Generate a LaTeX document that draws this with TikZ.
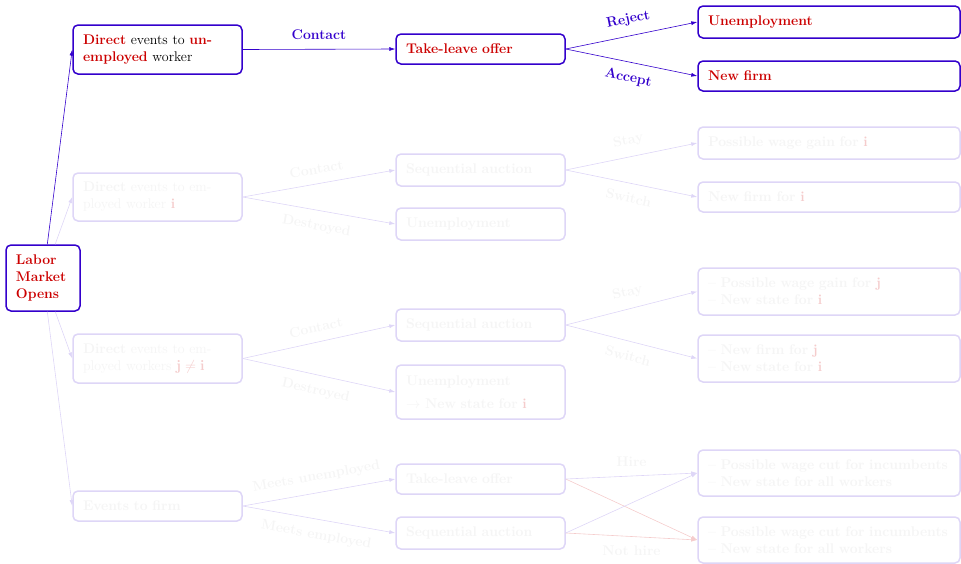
\documentclass[tikz,border=0pt]{standalone}
\usetikzlibrary{arrows.meta}
\definecolor{mainblue}{RGB}{51,0,204}
\definecolor{alertred}{RGB}{204,0,0}
\colorlet{fadeblue}{mainblue!16}
\colorlet{fadered}{alertred!20}
\colorlet{fadetext}{black!4}
\newcommand{\hl}[1]{\textcolor{alertred}{\textbf{#1}}}
\newcommand{\fhl}[1]{\textcolor{fadered}{\textbf{#1}}}

\begin{document}
\begin{tikzpicture}[x=1pt,y=-1pt,
  every node/.style={font=\fontsize{14}{17}\selectfont},
  box/.style={draw=mainblue, line width=1.5pt, rounded corners=5pt, fill=white,
    inner xsep=10pt, inner ysep=2pt, align=left},
  hbox/.style={box, text=alertred, font=\fontsize{14}{17}\selectfont\bfseries},
  fbox/.style={box, draw=fadeblue, text=fadetext},
  fbbox/.style={fbox, font=\fontsize{14}{17}\selectfont\bfseries},
  wa/.style={text width=149pt},
  wc/.style={text width=242pt},
  arr/.style={draw=mainblue, line width=0.6pt, -{Latex[length=6pt,width=4pt]}},
  farr/.style={arr, draw=fadeblue},
  frarr/.style={arr, draw=fadered},
  lbl/.style={font=\fontsize{14}{17}\selectfont\bfseries, text=mainblue, sloped},
  flbl/.style={lbl, text=fadetext},
  hlbl/.style={font=\fontsize{14}{17}\selectfont\bfseries, text=fadetext},
]
\useasboundingbox (0,0) rectangle (961,563);

% root
\node[hbox, text width=54pt, minimum height=66pt] (lmo) at (43,278) {Labor\\Market\\Opens};

% first level: event types
\node[box, wa, minimum height=49pt] (d1) at (157.5,49.5)
  {\hl{Direct} events to \hl{un-}\\\hl{employed} worker};
\node[fbox, wa, minimum height=48pt] (d2) at (157.5,197)
  {\textbf{Direct} events to em-\\ployed worker \fhl{i}};
\node[fbox, wa, minimum height=49pt] (d3) at (157.5,358.5)
  {\textbf{Direct} events to em-\\ployed workers \textcolor{fadered}{$\mathbf{j\neq i}$}};
\node[fbbox, wa, minimum height=30pt] (d4) at (157.5,506) {Events to firm};

% second level
\node[hbox, wa, minimum height=30pt] (tl1) at (480.5,49) {Take-leave offer};
\node[fbbox, wa, minimum height=32pt] (sa2) at (480.5,170) {Sequential auction};
\node[fbbox, wa, minimum height=32pt] (un2) at (480.5,224) {Unemployment};
\node[fbbox, wa, minimum height=32pt] (sa3) at (480.5,325) {Sequential auction};
\node[fbbox, wa, minimum height=54pt] (un3) at (480.5,392)
  {Unemployment\\[6pt]$\rightarrow$ New state for \fhl{i}};
\node[fbbox, wa, minimum height=30pt] (tl4) at (480.5,479) {Take-leave offer};
\node[fbbox, wa, minimum height=32pt] (sa4) at (480.5,533) {Sequential auction};

% third level: outcomes
\node[hbox, wc, minimum height=32pt] (un1) at (829,22) {Unemployment};
\node[hbox, wc, minimum height=30pt] (nf1) at (829,76) {New firm};
\node[fbbox, wc, minimum height=32pt] (wg2) at (829,143) {Possible wage gain for \fhl{i}};
\node[fbbox, wc, minimum height=30pt] (nf2) at (829,197) {New firm for \fhl{i}};
\node[fbbox, wc, minimum height=47pt] (wg3) at (829,291.5)
  {-- Possible wage gain for \fhl{j}\\-- New state for \fhl{i}};
\node[fbbox, wc, minimum height=47pt] (nf3) at (829,358.5)
  {-- New firm for \fhl{j}\\-- New state for \fhl{i}};
\node[fbbox, wc, minimum height=46pt] (wc4) at (829,473)
  {-- Possible wage cut for incumbents\\-- New state for all workers};
\node[fbbox, wc, minimum height=46pt] (wc5) at (829,540)
  {-- Possible wage cut for incumbents\\-- New state for all workers};

% faded branches
\draw[farr] (lmo) -- (d2.west);
\draw[farr] (lmo) -- (d3.west);
\draw[farr] (lmo) -- (d4.west);

\draw[farr] (d2.east) -- node[flbl, above=6pt] {Contact} (sa2.west);
\draw[farr] (d2.east) -- node[flbl, below=6pt] {Destroyed} (un2.west);
\draw[farr] (sa2.east) -- node[flbl, above=6pt] {Stay} (wg2.west);
\draw[farr] (sa2.east) -- node[flbl, below=6pt] {Switch} (nf2.west);

\draw[farr] (d3.east) -- node[flbl, above=6pt] {Contact} (sa3.west);
\draw[farr] (d3.east) -- node[flbl, below=6pt] {Destroyed} (un3.west);
\draw[farr] (sa3.east) -- node[flbl, above=6pt] {Stay} (wg3.west);
\draw[farr] (sa3.east) -- node[flbl, below=6pt] {Switch} (nf3.west);

\draw[farr] (d4.east) -- node[flbl, above=6pt] {Meets unemployed} (tl4.west);
\draw[farr] (d4.east) -- node[flbl, below=6pt] {Meets employed} (sa4.west);
\draw[frarr] (tl4.east) -- (wc5.west);
\draw[frarr] (sa4.east) -- node[hlbl, below=6pt] {Not hire} (wc5.west);
\draw[farr] (sa4.east) -- (wc4.west);
\draw[farr] (tl4.east) -- node[hlbl, above=6pt] {Hire} (wc4.west);

% highlighted branch
\draw[arr] (lmo) -- (d1.west);
\draw[arr] (d1.east) -- node[lbl, above=6pt] {Contact} (tl1.west);
\draw[arr] (tl1.east) -- node[lbl, above=6pt] {Reject} (un1.west);
\draw[arr] (tl1.east) -- node[lbl, below=6pt] {Accept} (nf1.west);
\end{tikzpicture}
\end{document}
